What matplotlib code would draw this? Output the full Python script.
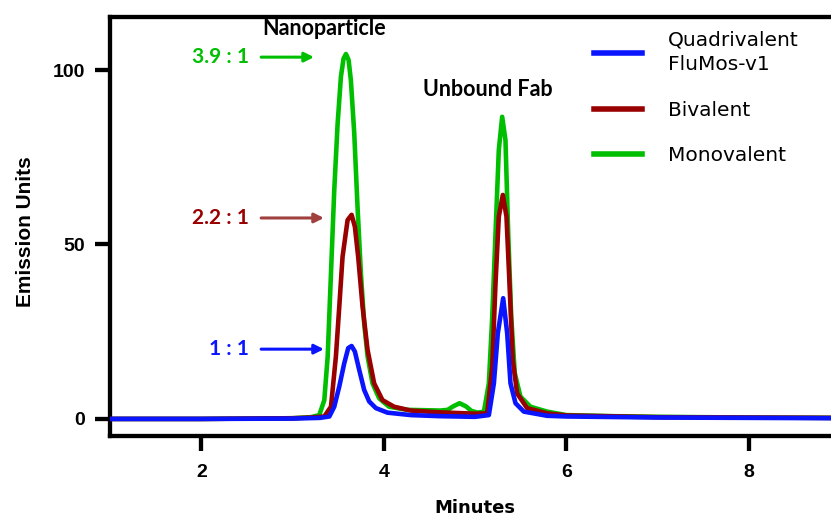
import matplotlib
matplotlib.use('Agg')
import matplotlib.pyplot as plt

# chromatogram traces (minutes, emission units)
mono_x = [1.0, 2.0, 3.0, 3.2, 3.293, 3.348, 3.385, 3.421, 3.457, 3.494, 3.530,
          3.559, 3.585, 3.614, 3.639, 3.676, 3.712, 3.749, 3.785, 3.822, 3.876,
          3.949, 4.058, 4.259, 4.45, 4.62, 4.70, 4.76, 4.83, 4.90, 4.96, 5.03,
          5.097, 5.151, 5.188, 5.224, 5.260, 5.297, 5.333, 5.363, 5.396, 5.435,
          5.497, 5.607, 5.789, 6.0, 6.5, 7.0, 8.0, 9.0]
mono_y = [0, 0, 0.2, 0.5, 1.1, 5.4, 17.9, 41.7, 65.6, 84.7, 98.1,
          103.3, 104.6, 102.9, 97.1, 81.9, 60.8, 41.7, 27.4, 17.9, 10.2,
          5.9, 3.5, 2.6, 2.5, 2.4, 2.6, 3.6, 4.5, 3.6, 2.3, 1.8,
          2.1, 10.2, 29.3, 53.2, 77.1, 86.6, 79.9, 53.2, 29.3, 13.1,
          6.4, 3.5, 2.1, 1.1, 0.8, 0.6, 0.4, 0.3]

biv_x = [1.0, 2.0, 3.0, 3.2, 3.348, 3.421, 3.475, 3.512, 3.548, 3.603, 3.647,
         3.683, 3.719, 3.767, 3.822, 3.894, 3.985, 4.112, 4.295, 4.6, 5.0,
         5.133, 5.188, 5.224, 5.260, 5.304, 5.344, 5.377, 5.413, 5.461, 5.570,
         5.789, 6.0, 7.0, 9.0]
biv_y = [0, 0, 0.2, 0.4, 0.7, 3.5, 17.9, 32.2, 46.5, 57.0, 58.5,
         55.1, 46.5, 32.2, 19.8, 10.2, 5.4, 3.5, 2.4, 1.9, 1.5,
         1.6, 15.0, 38.9, 58.0, 64.2, 58.0, 38.9, 16.9, 7.3, 3.1,
         1.6, 1.0, 0.5, 0.3]

quad_x = [1.0, 2.0, 3.0, 3.3, 3.403, 3.457, 3.512, 3.566, 3.610, 3.647, 3.683,
          3.731, 3.785, 3.840, 3.913, 4.04, 4.295, 4.6, 5.0, 5.151, 5.206,
          5.249, 5.308, 5.352, 5.388, 5.443, 5.534, 5.789, 6.0, 7.0, 9.0]
quad_y = [0, 0, 0.1, 0.3, 0.7, 3.5, 9.3, 15.9, 20.3, 20.9, 19.3,
          14.0, 8.3, 5.0, 3.1, 1.8, 1.1, 0.8, 0.6, 1.1, 10.2,
          24.5, 34.6, 24.5, 10.2, 4.5, 2.1, 0.9, 0.7, 0.4, 0.2]

series_names = ['Quadrivalent\nFluMos-v1', 'Bivalent', 'Monovalent']
ratio_labels = ['1 : 1', '2.2 : 1', '3.9 : 1']
ratio_y = [20, 57.6, 103.7]

BLUE, RED, GREEN = '#0a14ff', '#990000', '#00bf00'
RED_ARROW = '#a0403f'

fig = plt.figure(figsize=(8.31, 5.16), dpi=100)
ax = fig.add_axes([0.1324, 0.155, 0.8676, 0.812])

ax.plot(mono_x, mono_y, color=GREEN, lw=3.3, zorder=2, label=series_names[2],
        solid_joinstyle='round')
ax.plot(biv_x, biv_y, color=RED, lw=3.3, zorder=3, label=series_names[1],
        solid_joinstyle='round')
ax.plot(quad_x, quad_y, color=BLUE, lw=3.3, zorder=4, label=series_names[0],
        solid_joinstyle='round')

ax.set_xlim(1.0, 8.9)
ax.set_ylim(-4.9, 115.2)
ax.set_xticks([2, 4, 6, 8])
ax.set_yticks([0, 50, 100])

for side in ('left', 'top', 'bottom'):
    ax.spines[side].set_linewidth(3.1)
ax.spines['right'].set_visible(False)
ax.tick_params(axis='both', direction='out', length=11, width=3.1, labelsize=14)
ax.tick_params(axis='y', pad=7)
ax.tick_params(axis='x', pad=9)
for lab in ax.get_xticklabels() + ax.get_yticklabels():
    lab.set_fontfamily('Liberation Sans')
    lab.set_fontweight('bold')

ax.set_ylabel('Emission Units', fontsize=15, fontweight='bold',
              family='Liberation Sans')
ax.yaxis.set_label_coords(-0.104, 0.487)
ax.set_xlabel('Minutes', fontsize=13, fontweight='bold', family='DejaVu Sans')
ax.xaxis.set_label_coords(0.506, -0.172)
ax.xaxis.label.set_verticalalignment('center')

# peak annotations
ax.text(3.34, 112, 'Nanoparticle', ha='center', va='center', fontsize=15.5,
        fontweight='bold', family='Lato')
ax.text(5.14, 94.3, 'Unbound Fab', ha='center', va='center', fontsize=15.5,
        fontweight='bold', family='Lato')

arrow_end = [3.344, 3.344, 3.235]
text_cols = [BLUE, RED, GREEN]
arrow_cols = [BLUE, RED_ARROW, GREEN]
for lab, yv, xe, tc, ac in zip(ratio_labels, ratio_y, arrow_end, text_cols, arrow_cols):
    ax.text(2.525, yv, lab, ha='right', va='center', fontsize=15,
            fontweight='bold', family='Lato', color=tc)
    ax.annotate('', xy=(xe, yv), xytext=(2.656, yv),
                arrowprops=dict(arrowstyle='-|>', color=ac, lw=2.2,
                                mutation_scale=14, shrinkA=0, shrinkB=0))

handles, labels = ax.get_legend_handles_labels()
order = [2, 1, 0]
leg = ax.legend([handles[i] for i in order], [labels[i] for i in order],
                loc='upper left', bbox_to_anchor=(0.671, 0.968), frameon=False,
                prop={'family': 'DejaVu Sans', 'size': 14.5}, handlelength=2.4,
                handletextpad=1.3, labelspacing=1.3, borderpad=0,
                borderaxespad=0)
for line in leg.get_lines():
    line.set_linewidth(4)
for t in leg.get_texts():
    t.set_linespacing(1.4)

fig.savefig('out.png', dpi=100)
